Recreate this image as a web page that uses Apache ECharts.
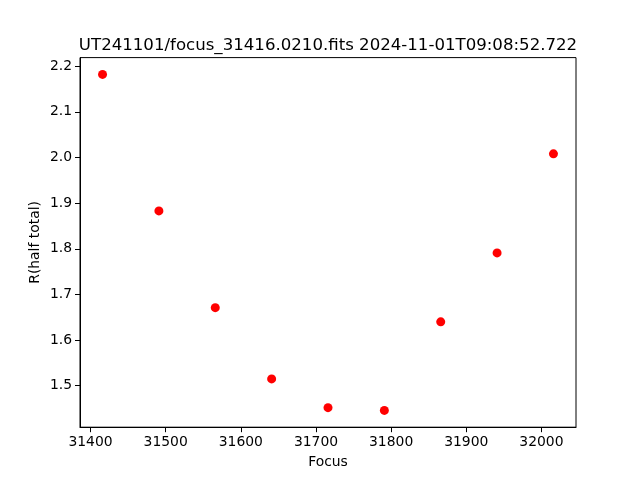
<!DOCTYPE html>
<html>
<head>
<meta charset="utf-8">
<script src="https://cdn.jsdelivr.net/npm/echarts@6/dist/echarts.min.js"></script>
<style>html,body{margin:0;padding:0;background:#fff}#c{width:640px;height:480px}</style>
</head>
<body>
<div id="c"></div>
<script>
const titleText = 'UT241101/focus_31416.0210.fits 2024-11-01T09:08:52.722';
const focusValues = [31416, 31491, 31566, 31641, 31716, 31791, 31866, 31941, 32016];
const radiusValues = [2.182, 1.883, 1.671, 1.515, 1.452, 1.446, 1.640, 1.791, 2.008];
const xTicks = [31400, 31500, 31600, 31700, 31800, 31900, 32000];
const yTicks = [1.5, 1.6, 1.7, 1.8, 1.9, 2.0, 2.1, 2.2];

const xMin = 31386, xMax = 32046;
const yMin = 1.4092, yMax = 2.2188;
const font = 'DejaVu Sans';

const chart = echarts.init(document.getElementById('c'), null, {renderer: 'canvas'});
chart.setOption({
  animation: false,
  backgroundColor: '#ffffff',
  textStyle: {fontFamily: font},
  title: {
    text: titleText,
    left: 323,
    textAlign: 'center',
    top: 32,
    textStyle: {fontFamily: font, fontSize: 16.6, fontWeight: 'normal', color: '#000'}
  },
  grid: {
    left: 80, right: 64, top: 57.6, bottom: 52.8,
    show: true, borderColor: '#000', borderWidth: 1, backgroundColor: '#fff'
  },
  xAxis: {
    type: 'value',
    min: xMin, max: xMax,
    name: 'Focus',
    nameLocation: 'middle',
    nameGap: 28,
    nameTextStyle: {fontFamily: font, fontSize: 13.9, color: '#000'},
    axisLine: {show: true, onZero: false, lineStyle: {color: '#000', width: 1}},
    axisTick: {show: true, inside: false, length: 5, lineStyle: {color: '#000', width: 1}, customValues: xTicks},
    axisLabel: {fontFamily: font, fontSize: 13.9, color: '#000', margin: 8, customValues: xTicks,
      formatter: v => String(v)},
    splitLine: {show: false}
  },
  yAxis: {
    type: 'value',
    min: yMin, max: yMax,
    name: 'R(half total)',
    nameLocation: 'middle',
    nameGap: 38,
    nameMoveOverlap: false,
    nameRotate: 90,
    nameTextStyle: {fontFamily: font, fontSize: 13.9, color: '#000'},
    axisLine: {show: true, onZero: false, lineStyle: {color: '#000', width: 1}},
    axisTick: {show: true, inside: false, length: 5, lineStyle: {color: '#000', width: 1}, customValues: yTicks},
    axisLabel: {fontFamily: font, fontSize: 13.9, color: '#000', margin: 8, customValues: yTicks,
      formatter: v => v.toFixed(1)},
    splitLine: {show: false}
  },
  series: [{
    type: 'scatter',
    data: focusValues.map((f, i) => [f, radiusValues[i]]),
    symbol: 'circle',
    symbolSize: 9,
    itemStyle: {color: '#ff0000', opacity: 1},
    emphasis: {disabled: true}
  }]
});
</script>
</body>
</html>
